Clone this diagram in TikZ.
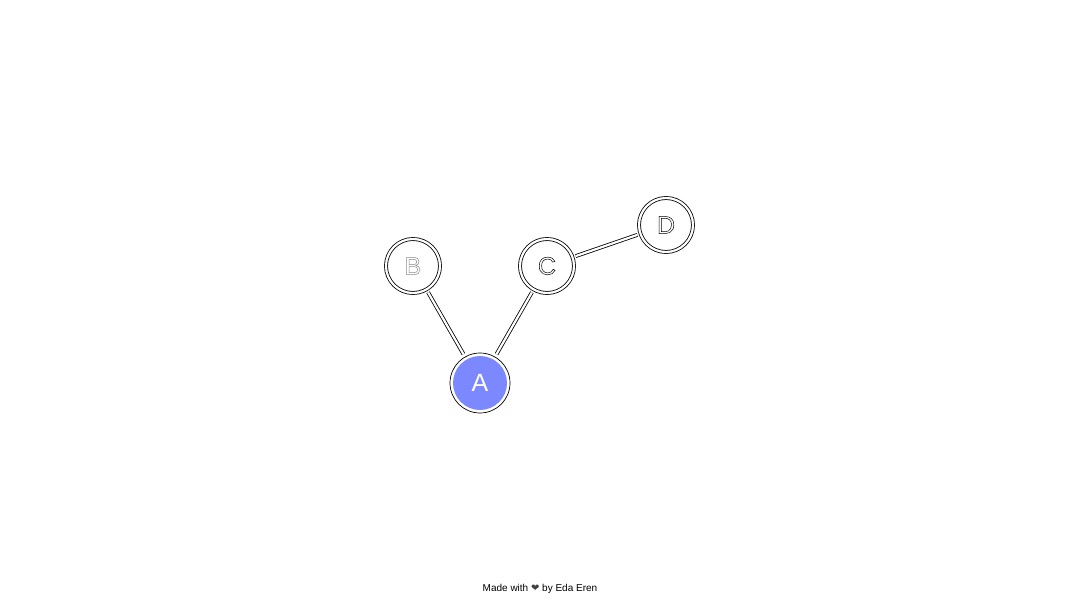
\documentclass[tikz,border=0pt]{standalone}
\usepackage{fontspec}
\setmainfont{Liberation Sans}
\newfontfamily\symfont{DejaVu Sans}
\definecolor{nodeblue}{RGB}{123,136,255}
\tikzset{
  ring/.style={circle, draw=black, line width=0.8pt, double=white, double distance=2.2pt, minimum size=54pt, inner sep=0pt, fill=white},
  edge/.style={draw=black, line width=0.8pt, double=white, double distance=2.2pt, shorten <=3pt, shorten >=3pt},
  lbl/.style={font=\fontsize{25}{25}\selectfont}
}
\newcommand{\outl}[2]{{\color{white}\special{pdf:literal direct #1 RG 2 Tr 0.5 w}#2\special{pdf:literal direct 0 Tr}}}
\begin{document}
\begin{tikzpicture}[x=1pt,y=-1pt]
\useasboundingbox (0,0) rectangle (1080,608);
\node[ring] (B) at (413,266) {};
\node[ring] (C) at (547,266) {};
\node[ring] (D) at (666,225) {};
\node[circle, draw=black, line width=0.7pt, fill=white, minimum size=60pt, inner sep=0pt] (A) at (480,383) {};
\node[circle, fill=nodeblue, minimum size=54pt, inner sep=0pt] (Ain) at (A) {};
\node[lbl] (Bl) at (B) {\outl{0.55 0.55 0.55}{B}};
\node[lbl] (Cl) at (C) {\outl{0 0 0}{C}};
\node[lbl] (Dl) at (D) {\outl{0 0 0}{D}};
\node[lbl, text=white] (Al) at (A) {A};
\draw[edge] (B) -- (A);
\draw[edge] (C) -- (A);
\draw[edge] (C) -- (D);
\node[font=\fontsize{10}{10}\selectfont] (foot) at (540,589) {Made with {\symfont\color{black!75}❤} by Eda Eren};
\end{tikzpicture}
\end{document}
